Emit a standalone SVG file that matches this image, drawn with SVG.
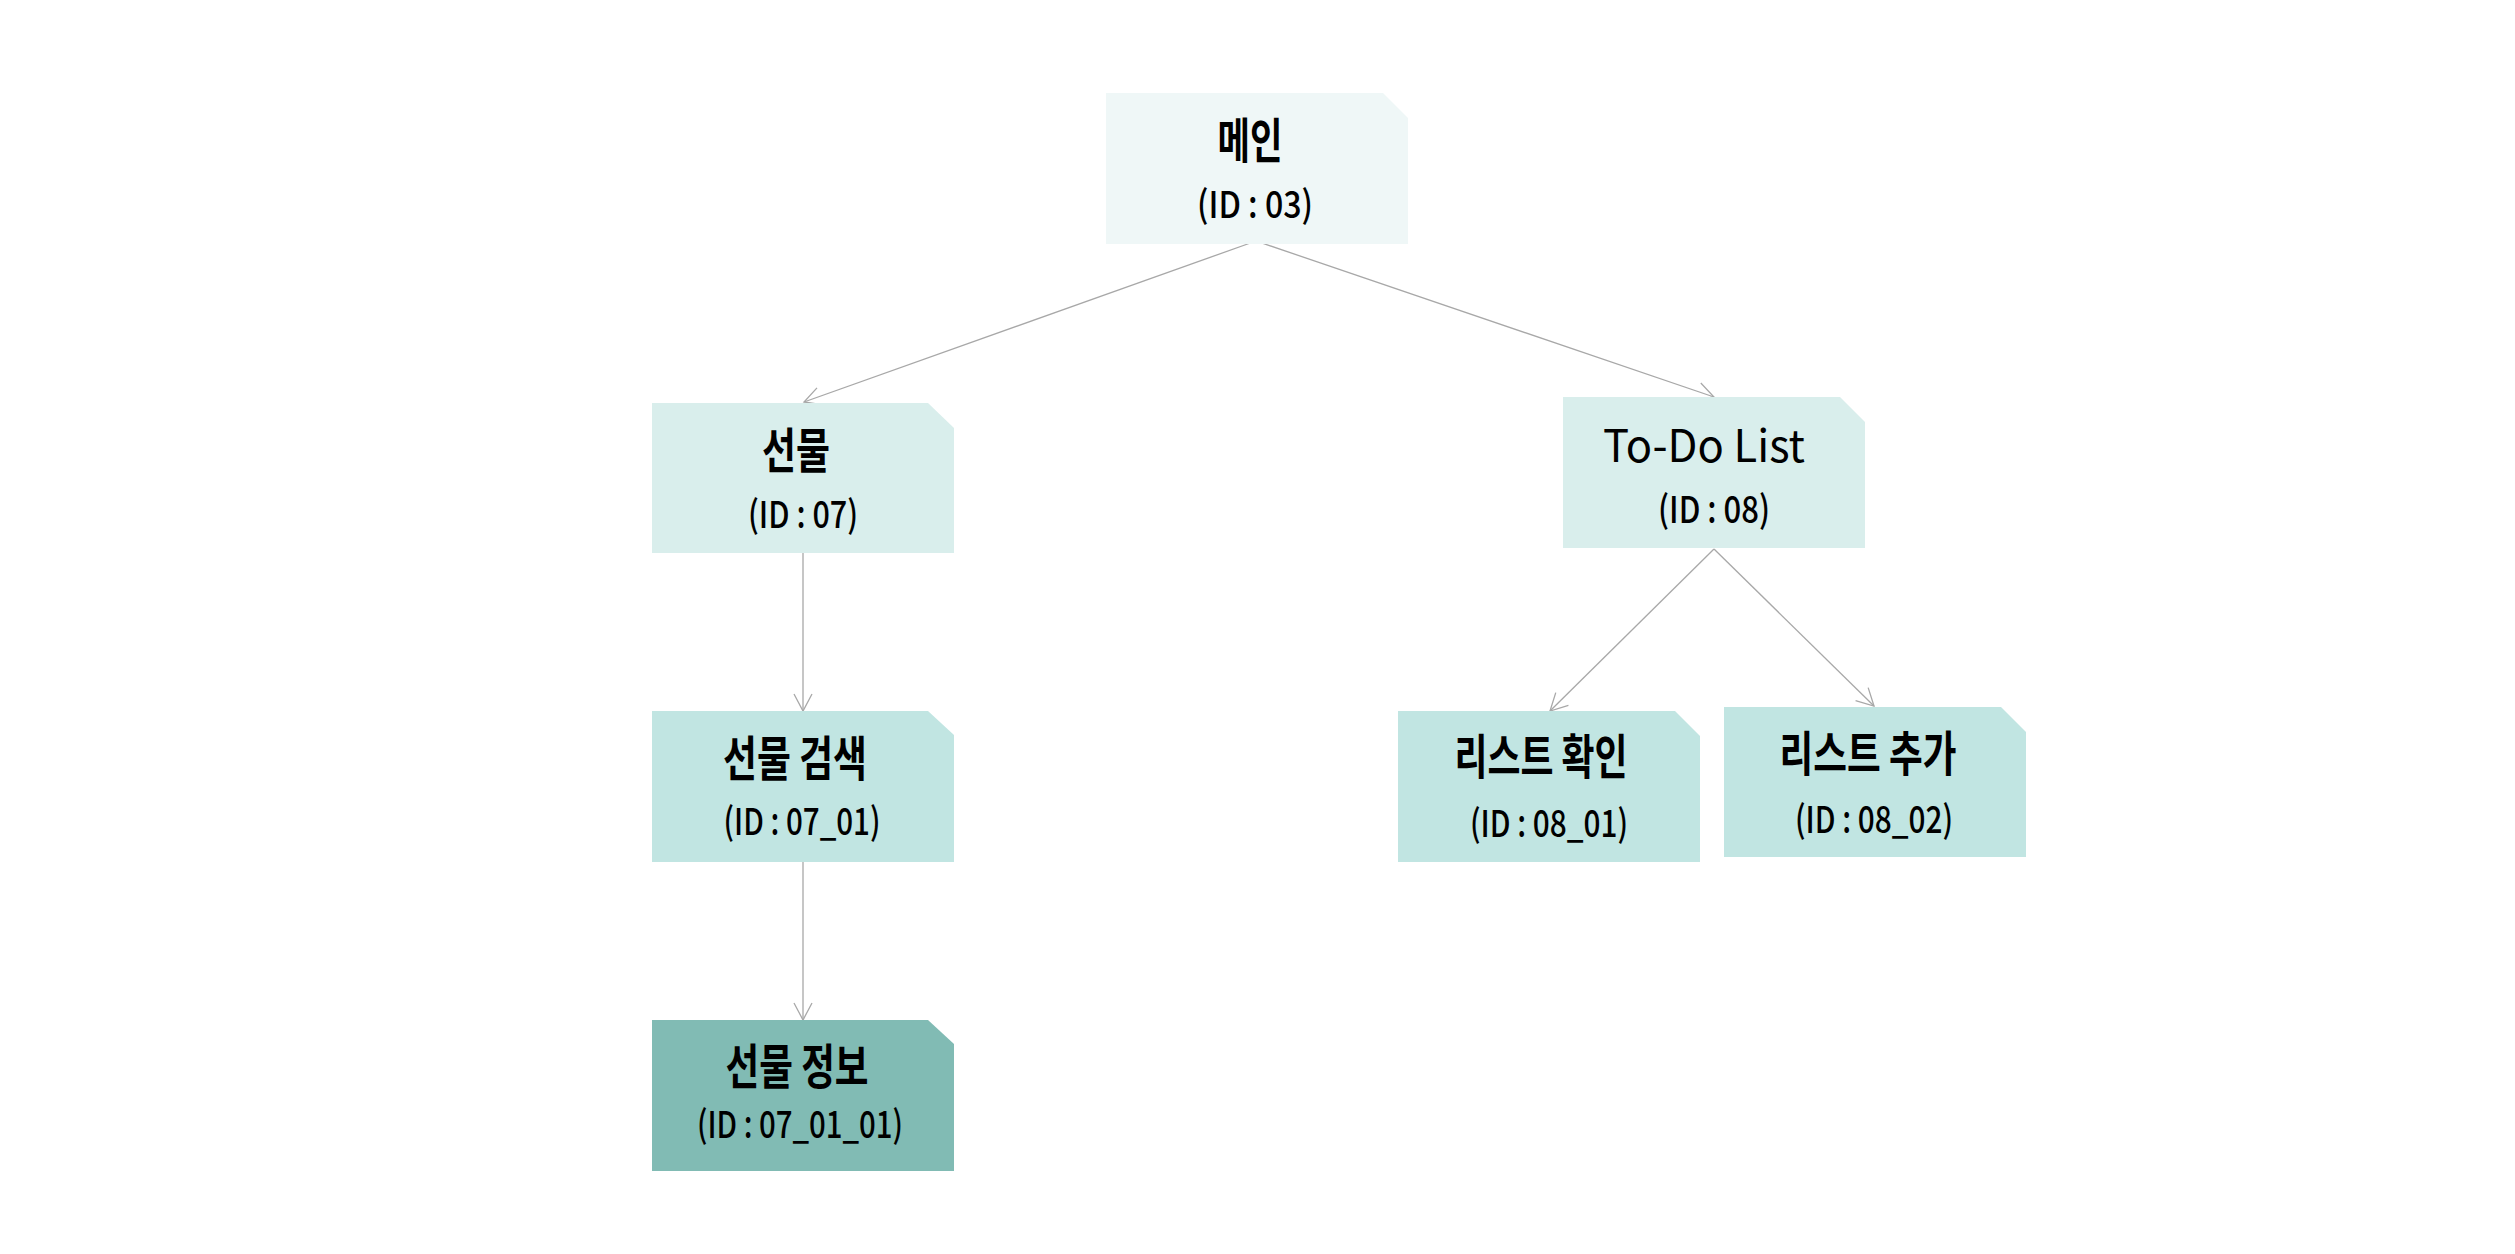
<svg xmlns="http://www.w3.org/2000/svg" width="2515" height="1254" viewBox="0 0 2515 1254">
<style>
.title{font-family:"Noto Sans CJK KR","Noto Sans",sans-serif;font-size:48px;font-weight:700;fill:#000;text-anchor:middle}
.latin{font-family:"Noto Sans CJK KR","Noto Sans",sans-serif;font-size:45px;font-weight:400;fill:#000;text-anchor:middle}
.id{font-family:"Noto Sans CJK KR","Noto Sans",sans-serif;font-size:37px;font-weight:500;fill:#000;text-anchor:middle}
.conn{stroke:#a8a8a8;stroke-width:1.3;fill:none}
.l0{fill:#eff7f7}.l1{fill:#d9eeec}.l2{fill:#c1e5e2}.l3{fill:#81bbb4}
</style>
<defs>
<marker id="arr" markerUnits="userSpaceOnUse" markerWidth="40" markerHeight="40" refX="0" refY="0" viewBox="-20 -20 40 40" orient="auto" overflow="visible">
<path d="M-17,-9 L0,0 L-17,9" fill="none" stroke="#a8a8a8" stroke-width="1.3"/>
</marker>
</defs>
<rect width="2515" height="1254" fill="#fff"/>
<g id="connectors">
<line class="conn" x1="1256" y1="241" x2="804" y2="402" marker-end="url(#arr)"/>
<line class="conn" x1="1256" y1="241" x2="1714" y2="397" marker-end="url(#arr)"/>
<line class="conn" x1="803" y1="553" x2="803" y2="711" marker-end="url(#arr)"/>
<line class="conn" x1="803" y1="862" x2="803" y2="1020" marker-end="url(#arr)"/>
<line class="conn" x1="1714" y1="549" x2="1550" y2="711" marker-end="url(#arr)"/>
<line class="conn" x1="1714" y1="549" x2="1874" y2="706" marker-end="url(#arr)"/>
</g>
<g id="node-main">
<path class="l0" d="M1106,93 H1383 L1408,118 V244 H1106 Z"/>
<text class="title" x="1250" y="158" textLength="65" lengthAdjust="spacingAndGlyphs">메인</text>
<text class="id" x="1255" y="218" textLength="116" lengthAdjust="spacingAndGlyphs">(ID : 03)</text>
</g>
<g id="node-gift">
<path class="l1" d="M652,403 H928 L954,428 V553 H652 Z"/>
<text class="title" x="796" y="468" textLength="68" lengthAdjust="spacingAndGlyphs">선물</text>
<text class="id" x="803" y="528" textLength="110" lengthAdjust="spacingAndGlyphs">(ID : 07)</text>
</g>
<g id="node-todo">
<path class="l1" d="M1563,397 H1840 L1865,422 V548 H1563 Z"/>
<text class="latin" x="1704" y="462" textLength="202" lengthAdjust="spacingAndGlyphs">To-Do List</text>
<text class="id" x="1714" y="523" textLength="112" lengthAdjust="spacingAndGlyphs">(ID : 08)</text>
</g>
<g id="node-gift-search">
<path class="l2" d="M652,711 H928 L954,735 V862 H652 Z"/>
<text class="title" x="795" y="776" textLength="144" lengthAdjust="spacingAndGlyphs">선물 검색</text>
<text class="id" x="802" y="835" textLength="157" lengthAdjust="spacingAndGlyphs">(ID : 07_01)</text>
</g>
<g id="node-list-view">
<path class="l2" d="M1398,711 H1675 L1700,736 V862 H1398 Z"/>
<text class="title" x="1541" y="774" textLength="173" lengthAdjust="spacingAndGlyphs">리스트 확인</text>
<text class="id" x="1549" y="837" textLength="158" lengthAdjust="spacingAndGlyphs">(ID : 08_01)</text>
</g>
<g id="node-list-add">
<path class="l2" d="M1724,707 H2001 L2026,732 V857 H1724 Z"/>
<text class="title" x="1868" y="771" textLength="177" lengthAdjust="spacingAndGlyphs">리스트 추가</text>
<text class="id" x="1874" y="833" textLength="158" lengthAdjust="spacingAndGlyphs">(ID : 08_02)</text>
</g>
<g id="node-gift-info">
<path class="l3" d="M652,1020 H928 L954,1044 V1171 H652 Z"/>
<text class="title" x="797" y="1084" textLength="143" lengthAdjust="spacingAndGlyphs">선물 정보</text>
<text class="id" x="800" y="1138" textLength="206" lengthAdjust="spacingAndGlyphs">(ID : 07_01_01)</text>
</g>
</svg>
